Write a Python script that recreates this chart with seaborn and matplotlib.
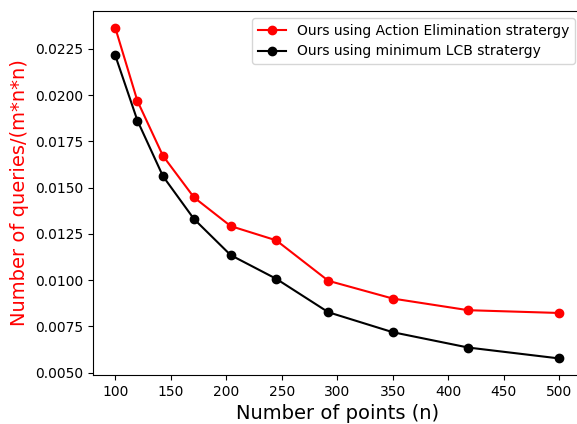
import matplotlib
matplotlib.use("Agg")
import matplotlib.pyplot as plt
import pandas as pd
import seaborn as sns

n_points = [100, 120, 143, 171, 204, 245, 292, 350, 418, 500]
action_elim = [0.02366, 0.01969, 0.01672, 0.01447, 0.01292,
               0.01215, 0.00996, 0.00900, 0.00837, 0.00822]
min_lcb = [0.02216, 0.01863, 0.01562, 0.01330, 0.01135,
           0.01007, 0.00826, 0.00718, 0.00635, 0.00576]
labels = ["Ours using Action Elimination stratergy",
          "Ours using minimum LCB stratergy"]
colors = ["red", "black"]

df = pd.DataFrame({"n": n_points, labels[0]: action_elim, labels[1]: min_lcb})

fig = plt.figure(figsize=(5.77, 4.24), dpi=100)
ax = fig.add_axes([93 / 577, 49 / 424, 488.5 / 577, 364 / 424])

for label, color in zip(labels, colors):
    sns.lineplot(
        data=df,
        x="n",
        y=label,
        ax=ax,
        color=color,
        marker="o",
        markersize=6,
        markeredgecolor=color,
        markeredgewidth=1,
        linewidth=1.5,
        label=label,
    )

ax.set_xlabel("Number of points (n)", fontsize=14)
ax.set_ylabel("Number of queries/(m*n*n)", fontsize=14, color="red")
ax.set_xticks([100, 150, 200, 250, 300, 350, 400, 450, 500])
ax.legend(loc="upper right", fontsize=10)

fig.savefig("out.png", dpi=100)
